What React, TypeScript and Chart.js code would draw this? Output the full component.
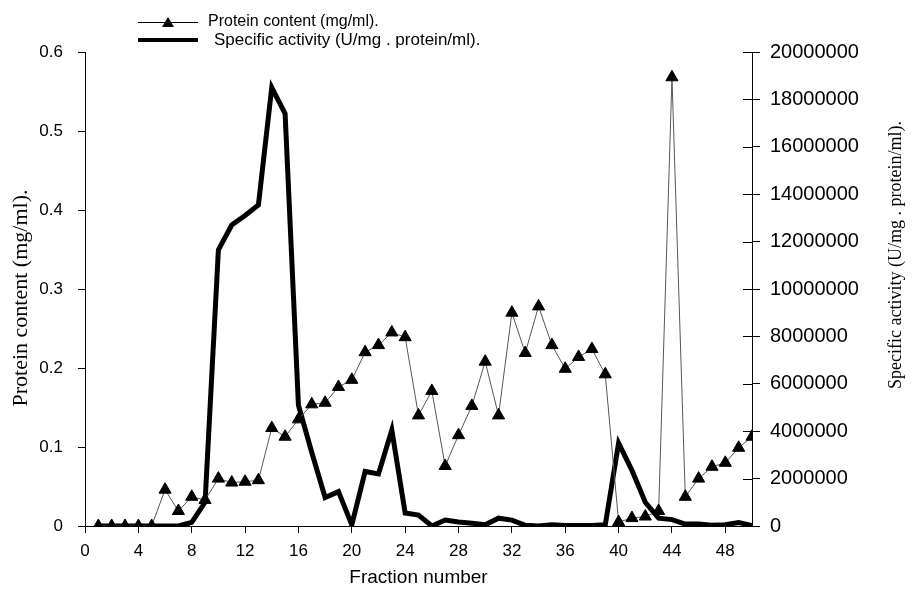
import React, { useEffect, useRef } from 'react';
import { Chart, registerables } from 'chart.js';

Chart.register(...registerables);

const fractions = [
  1, 2, 3, 4, 5, 6, 7, 8, 9, 10,
  11, 12, 13, 14, 15, 16, 17, 18, 19, 20,
  21, 22, 23, 24, 25, 26, 27, 28, 29, 30,
  31, 32, 33, 34, 35, 36, 37, 38, 39, 40,
  41, 42, 43, 44, 45, 46, 47, 48, 49, 50,
];

const protein = [
  0, 0, 0, 0, 0, 0.046, 0.019, 0.037, 0.033, 0.06,
  0.055, 0.056, 0.058, 0.124, 0.113, 0.135, 0.154, 0.156, 0.176, 0.185,
  0.22, 0.229, 0.245, 0.239, 0.14, 0.171, 0.076, 0.115, 0.152, 0.208,
  0.14, 0.27, 0.219, 0.278, 0.229, 0.199, 0.214, 0.224, 0.192, 0.005,
  0.01, 0.012, 0.019, 0.568, 0.037, 0.06, 0.075, 0.08, 0.099, 0.113,
];

const activity = [
  0, 0, 0, 0, 0, 0, 0, 150000, 1000000, 11650000,
  12700000, 13100000, 13550000, 18500000, 17400000, 5100000, 3100000, 1200000, 1450000, 50000,
  2300000, 2200000, 4050000, 550000, 460000, 0, 250000, 170000, 120000, 50000,
  330000, 250000, 30000, 0, 50000, 20000, 20000, 20000, 50000, 3500000,
  2350000, 1000000, 330000, 270000, 80000, 80000, 30000, 50000, 150000, 20000,
];

const proteinLabel = 'Protein content (mg/ml).';
const activityLabel = 'Specific activity (U/mg . protein/ml).';
const xTitle = 'Fraction number';

const SANS = 'Arial, "Liberation Sans", sans-serif';
const SERIF = '"Times New Roman", "Liberation Serif", serif';

const overlay = {
  id: 'overlay',
  afterDraw(chart: any) {
    const ctx = chart.ctx as CanvasRenderingContext2D;
    const area = chart.chartArea;
    const y1 = chart.scales.y1;
    ctx.save();
    // inner half of right-axis ticks
    ctx.strokeStyle = '#000';
    ctx.lineWidth = 1;
    y1.ticks.forEach((t: any) => {
      const py = Math.round(y1.getPixelForValue(t.value)) + 0.5;
      ctx.beginPath();
      ctx.moveTo(area.right - 9, py);
      ctx.lineTo(area.right, py);
      ctx.stroke();
    });
    // axis titles
    ctx.fillStyle = '#000';
    ctx.textAlign = 'center';
    ctx.textBaseline = 'middle';
    ctx.font = '19px ' + SANS;
    ctx.fillText(xTitle, (area.left + area.right) / 2, 578);

    ctx.save();
    ctx.translate(21, 298);
    ctx.rotate(-Math.PI / 2);
    ctx.font = '22px ' + SERIF;
    ctx.fillText(proteinLabel, 0, 0);
    ctx.restore();

    ctx.save();
    ctx.translate(896, 255);
    ctx.rotate(-Math.PI / 2);
    ctx.font = '18px ' + SERIF;
    ctx.fillText(activityLabel, 0, 0);
    ctx.restore();

    // legend
    ctx.textAlign = 'left';
    ctx.strokeStyle = '#000';
    ctx.lineWidth = 1;
    ctx.beginPath();
    ctx.moveTo(138, 22.5);
    ctx.lineTo(198, 22.5);
    ctx.stroke();
    ctx.beginPath();
    ctx.moveTo(168, 17);
    ctx.lineTo(174, 27);
    ctx.lineTo(162, 27);
    ctx.closePath();
    ctx.fill();
    ctx.font = '16px ' + SANS;
    ctx.fillText(proteinLabel, 208, 22);

    ctx.lineWidth = 4;
    ctx.beginPath();
    ctx.moveTo(138, 40);
    ctx.lineTo(198, 40);
    ctx.stroke();
    ctx.font = '17px ' + SANS;
    ctx.fillText(activityLabel, 214, 40);
    ctx.restore();
  },
};

export default function App() {
  const ref = useRef<HTMLCanvasElement | null>(null);
  useEffect(() => {
    document.body.style.margin = '0';
    const canvas = ref.current;
    if (!canvas) return;
    const chart = new Chart(canvas, {
      type: 'line',
      data: {
        datasets: [
          {
            label: proteinLabel,
            data: fractions.map((f, i) => ({ x: f, y: protein[i] })),
            yAxisID: 'y',
            borderColor: '#555',
            borderWidth: 1,
            pointStyle: 'triangle',
            pointRadius: 7,
            pointBackgroundColor: '#000',
            pointBorderColor: '#000',
            pointBorderWidth: 1,
            tension: 0,
            order: 0,
          },
          {
            label: activityLabel,
            data: fractions.map((f, i) => ({ x: f, y: activity[i] })),
            yAxisID: 'y1',
            borderColor: '#000',
            borderWidth: 5,
            borderJoinStyle: 'miter',
            pointRadius: 0,
            tension: 0,
            order: 1,
          },
        ],
      },
      options: {
        animation: false,
        responsive: false,
        layout: { padding: { top: 52, left: 0, right: 0, bottom: 0 } },
        plugins: { legend: { display: false }, tooltip: { enabled: false }, title: { display: false } },
        scales: {
          x: {
            type: 'linear',
            min: 0,
            max: 50,
            ticks: {
              stepSize: 4,
              includeBounds: false,
              color: '#000',
              font: { family: SANS, size: 17 },
              padding: 8,
              maxRotation: 0,
            },
            grid: { drawOnChartArea: false, tickLength: 7, tickColor: '#000', color: '#000' },
            border: { color: '#000', width: 1 },
            afterFit: (s: any) => { s.height = 73; },
          },
          y: {
            position: 'left',
            min: 0,
            max: 0.6,
            ticks: {
              stepSize: 0.1,
              color: '#000',
              font: { family: SANS, size: 17 },
              padding: 15,
              callback: (v: any) => (Number(v) === 0 ? '0' : Number(v).toFixed(1)),
            },
            grid: { drawOnChartArea: false, tickLength: 7, tickColor: '#000', color: '#000' },
            border: { color: '#000', width: 1 },
            afterFit: (s: any) => { s.width = 85; },
          },
          y1: {
            position: 'right',
            min: 0,
            max: 20000000,
            ticks: {
              stepSize: 2000000,
              color: '#000',
              font: { family: SANS, size: 20 },
              padding: 10,
              callback: (v: any) => String(Math.round(Number(v))),
            },
            grid: { drawOnChartArea: false, tickLength: 8, tickColor: '#000', color: '#000' },
            border: { color: '#000', width: 1 },
            afterFit: (s: any) => { s.width = 171; },
          },
        },
      },
      plugins: [overlay],
    });
    return () => chart.destroy();
  }, []);
  return (
    <div style={{ width: 923, height: 599, background: '#fff' }}>
      <canvas ref={ref} width={923} height={599} style={{ width: 923, height: 599, display: 'block' }} />
    </div>
  );
}
